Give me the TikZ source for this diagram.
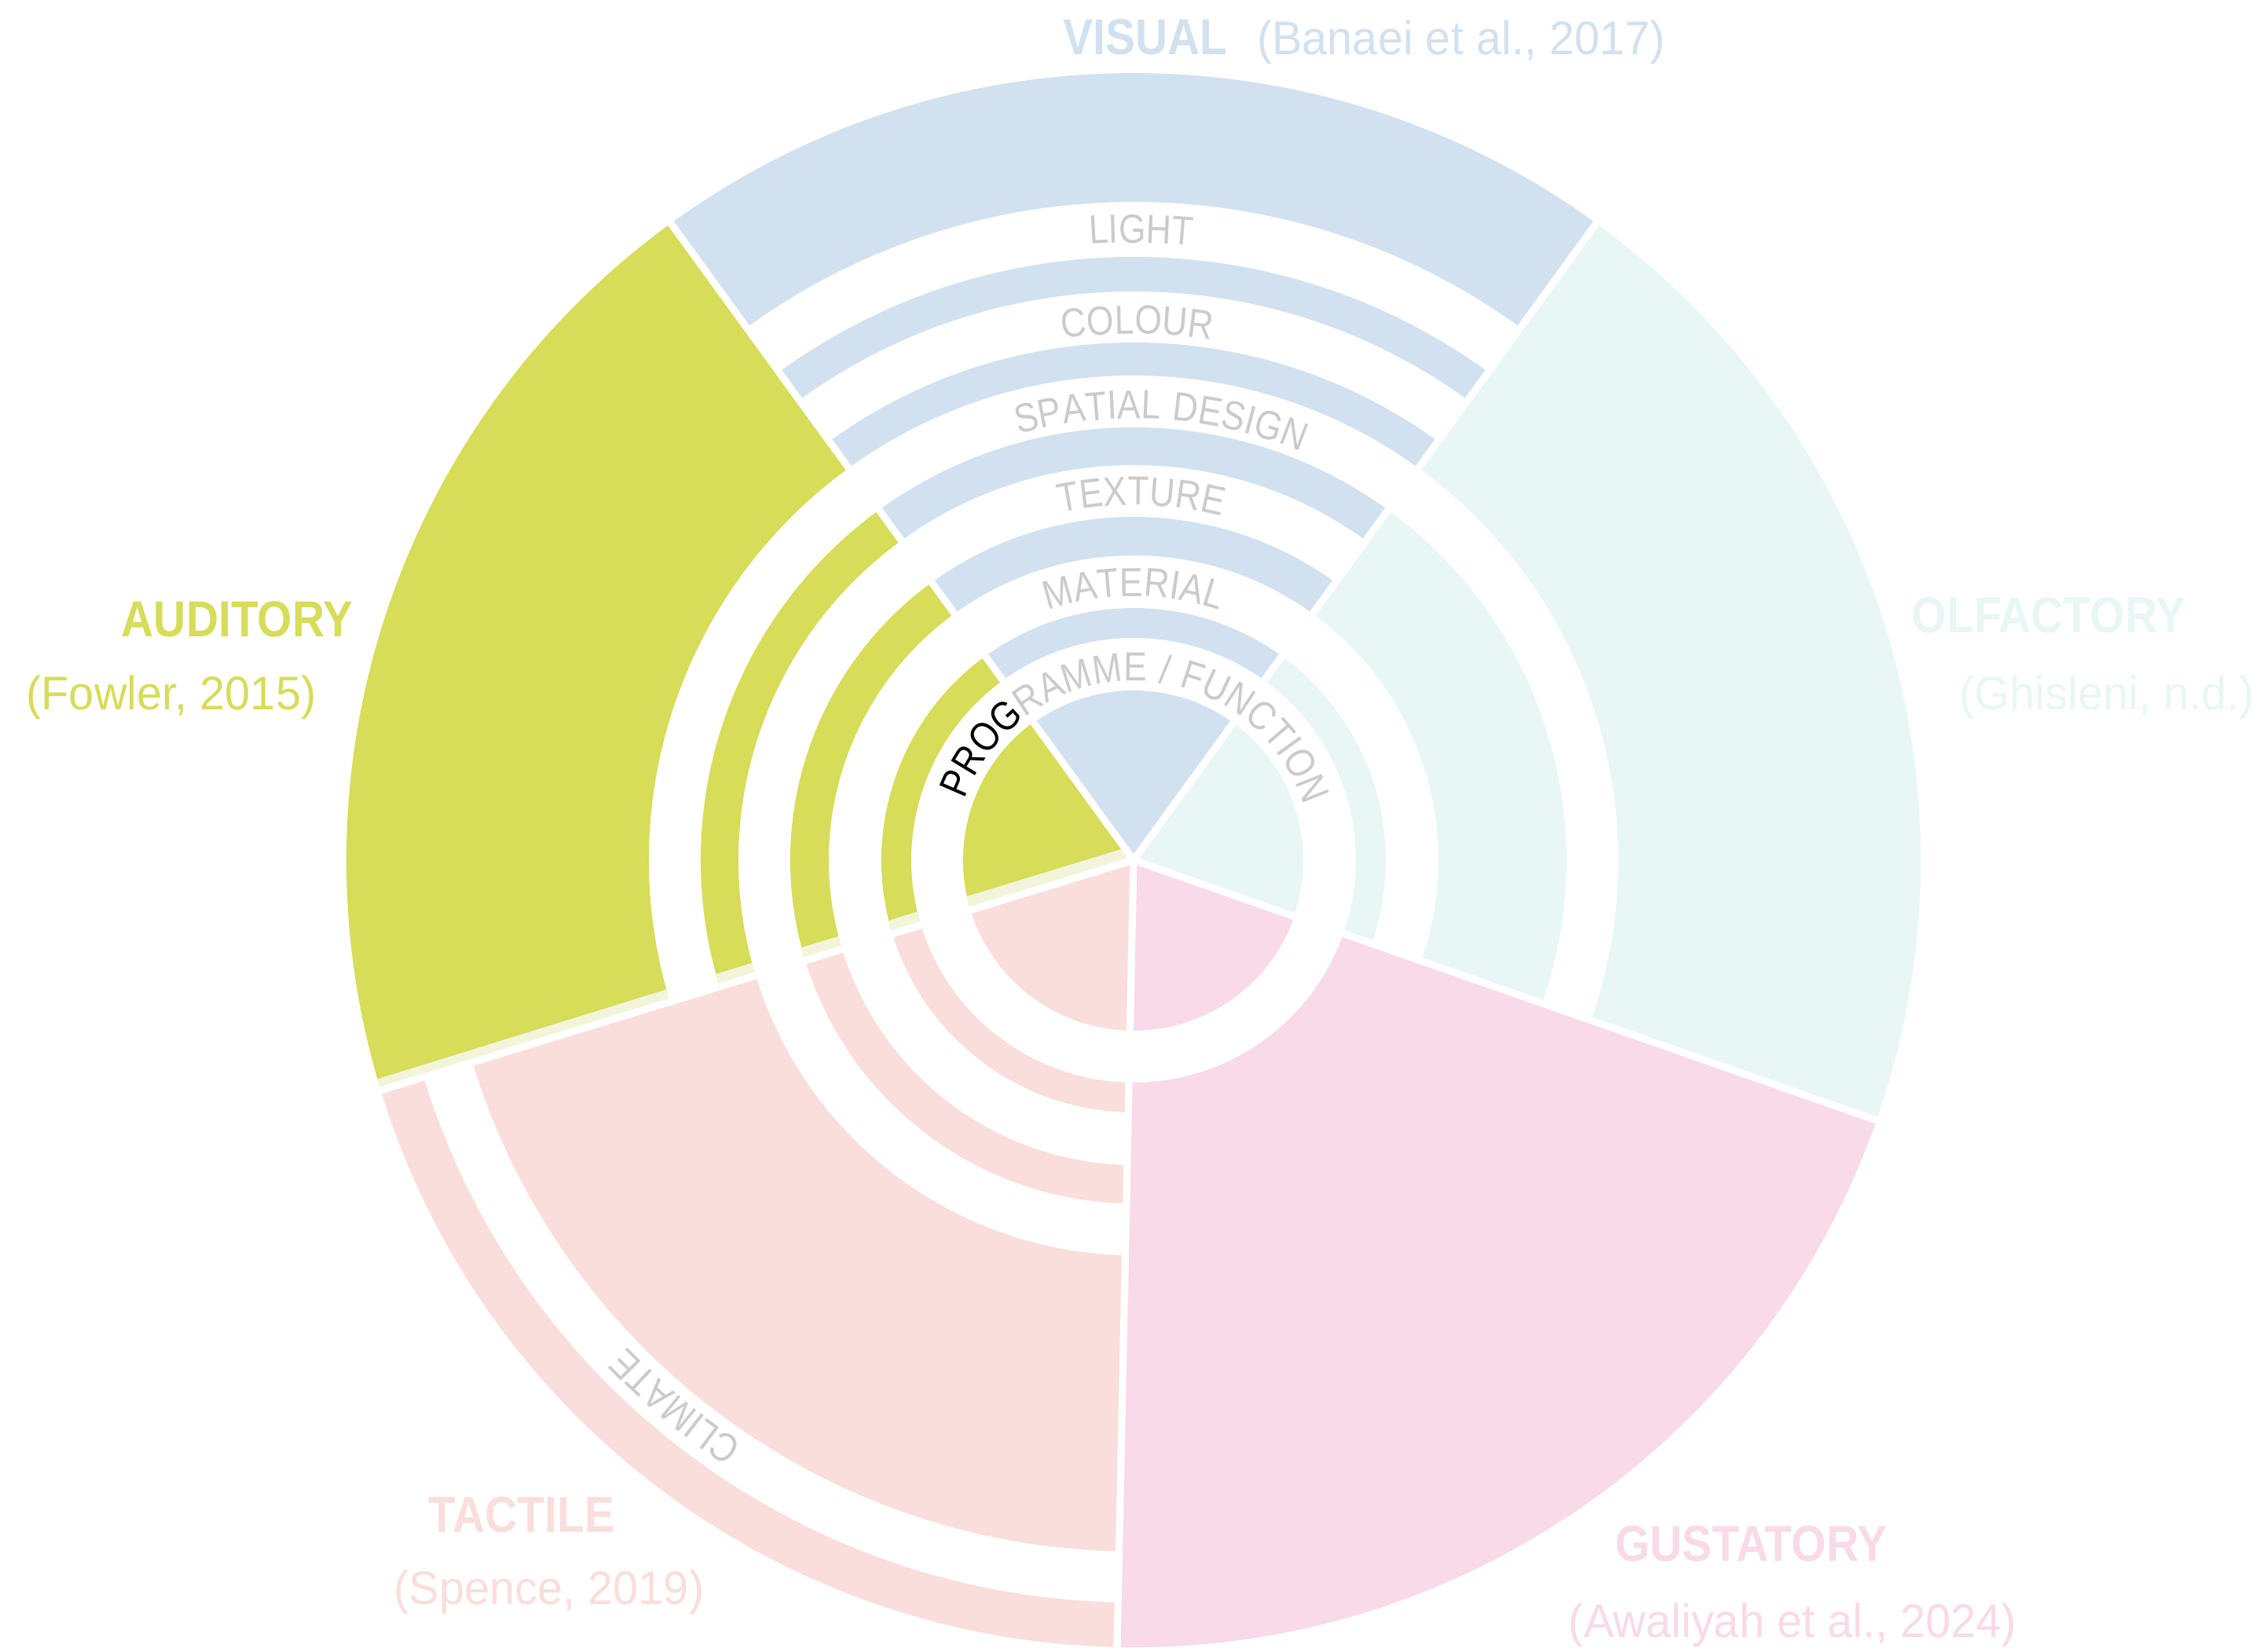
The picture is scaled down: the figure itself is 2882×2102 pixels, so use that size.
\documentclass[tikz,border=0pt]{standalone}
\usepackage{fontspec}
\usetikzlibrary{decorations.text}
\newfontfamily\titlefont[FakeStretch=0.885]{Liberation Sans}
\newfontfamily\citefont[FakeStretch=0.96]{Liberation Sans}
\newfontfamily\ringfont[FakeStretch=0.86,LetterSpace=4]{Liberation Sans}
\definecolor{vis}{HTML}{D2E1EF}
\definecolor{olf}{HTML}{E9F6F6}
\definecolor{gus}{HTML}{F8DAE8}
\definecolor{tac}{HTML}{F9DEDB}
\definecolor{aud}{HTML}{D7DC59}
\definecolor{audpale}{HTML}{F2F5D9}
\definecolor{ringgray}{HTML}{CBCBCB}
\newcommand\ringsty{\ringfont\fontsize{14.7}{16}\selectfont\color{ringgray}}
\newcommand\ringstyk{\ringfont\fontsize{14.7}{16}\selectfont\color{black}}
\newcommand\band[5]{\fill[#5] (#1:#3) arc[start angle=#1,end angle=#2,radius=#3] -- (#2:#4) arc[start angle=#2,end angle=#1,radius=#4] -- cycle;}
\newcommand\pieslice[4]{\fill[#4] (0,0) -- (#1:#3) arc[start angle=#1,end angle=#2,radius=#3] -- cycle;}
\tikzset{
  sensetitle/.style={font=\titlefont\bfseries\fontsize{18.3}{20}\selectfont, inner sep=0pt, anchor=base},
  sensecite/.style={font=\citefont\fontsize{17.1}{19}\selectfont, inner sep=0pt, anchor=base},
  gapline/.style={white, line width=2.6pt},
}
\begin{document}
\begin{tikzpicture}[x=0.01cm,y=0.01cm]
\useasboundingbox (-1443,-1007) rectangle (1439,1095);
% VISUAL
\pieslice{54}{126}{216}{vis}
\band{54}{126}{283}{321}{vis}
\band{54}{126}{388}{437}{vis}
\band{54}{126}{503}{551}{vis}
\band{54}{126}{617}{659}{vis}
\band{54}{126}{724}{768}{vis}
\band{54}{126}{838}{1002}{vis}
% OLFACTORY
\pieslice{-19.3}{54}{216}{olf}
\band{-19.3}{54}{283}{321}{olf}
\band{-19.3}{54}{388}{551}{olf}
\band{-19.3}{54}{617}{1002}{olf}
% GUSTATORY
\pieslice{-91.2}{-19.3}{217}{gus}
\band{-91.2}{-19.3}{283}{1002}{gus}
% TACTILE
\pieslice{197}{268.8}{217}{tac}
\band{197}{268.8}{283}{321}{tac}
\band{197}{268.8}{388}{437}{tac}
\band{197}{268.8}{503}{880}{tac}
\band{197}{268.8}{945}{1002}{tac}
% AUDITORY
\begin{scope}
\clip (0,0) -- (126:217) arc[start angle=126,end angle=197,radius=217] -- cycle
  (126:283) arc[start angle=126,end angle=197,radius=283] -- (197:321) arc[start angle=197,end angle=126,radius=321] -- cycle
  (126:388) arc[start angle=126,end angle=197,radius=388] -- (197:437) arc[start angle=197,end angle=126,radius=437] -- cycle
  (126:503) arc[start angle=126,end angle=197,radius=503] -- (197:551) arc[start angle=197,end angle=126,radius=551] -- cycle
  (126:617) arc[start angle=126,end angle=197,radius=617] -- (197:1002) arc[start angle=197,end angle=126,radius=1002] -- cycle;
\fill[aud] (-1100,-1100) rectangle (1100,1100);
\fill[audpale] ([shift={(107:4)}]0,0) -- ([shift={(107:4)}]197:1010) -- ([shift={(107:15)}]197:1010) -- ([shift={(107:18)}]197:220) -- ([shift={(107:18)}]0,0) -- cycle;
\end{scope}
% separators
\draw[gapline] (0,0) -- (54:1015);
\draw[gapline] (0,0) -- (126:1015);
\draw[gapline] (0,0) -- (197:1015);
\draw[gapline] (0,0) -- (268.8:1015);
\draw[gapline] (0,0) -- (340.7:1015);
% ring labels
\path[decorate, decoration={text along path, text align=center, text={|\ringsty|LIGHT}}] (129.3:786) arc[start angle=129.3, end angle=49.3, radius=786];
\path[decorate, decoration={text along path, text align=center, text={|\ringsty|COLOUR}}] (129.6:670) arc[start angle=129.6, end angle=49.6, radius=670];
\path[decorate, decoration={text along path, text align=center, text={|\ringsty|SPATIAL DESIGN}}] (136.4:562) arc[start angle=136.4, end angle=36.4, radius=562];
\path[decorate, decoration={text along path, text align=center, text={|\ringsty|TEXTURE}}] (138.8:452) arc[start angle=138.8, end angle=38.8, radius=452];
\path[decorate, decoration={text along path, text align=center, text={|\ringsty|MATERIAL}}] (150:336) arc[start angle=150, end angle=30, radius=336];
\path[decorate, decoration={text along path, text align=center, text={|\ringstyk|PROG|\ringsty|RAMME / FUNCTION}}] (179:228) arc[start angle=179, end angle=-1, radius=228];
\path[decorate, decoration={text along path, text align=center, text={|\ringsty|CLIMATE}}] (-105:894) arc[start angle=-105, end angle=-155, radius=894];
% titles
\node[sensetitle, text=vis] (tvis) at (15,1025) {VISUAL};
\node[sensecite, text=vis] (cvis) at (417,1025) {(Banaei et al., 2017)};
\node[sensetitle, text=aud] (taud) at (-1141,285) {AUDITORY};
\node[sensecite, text=aud] (caud) at (-1225,192) {(Fowler, 2015)};
\node[sensetitle, text=olf] (tolf) at (1165,290) {OLFACTORY};
\node[sensecite, text=olf] (colf) at (1239,192) {(Ghisleni, n.d.)};
\node[sensetitle, text=tac] (ttac) at (-779,-855) {TACTILE};
\node[sensecite, text=tac] (ctac) at (-744,-947) {(Spence, 2019)};
\node[sensetitle, text=gus] (tgus) at (786,-892) {GUSTATORY};
\node[sensecite, text=gus] (cgus) at (839,-989) {(Awaliyah et al., 2024)};
\end{tikzpicture}
\end{document}
